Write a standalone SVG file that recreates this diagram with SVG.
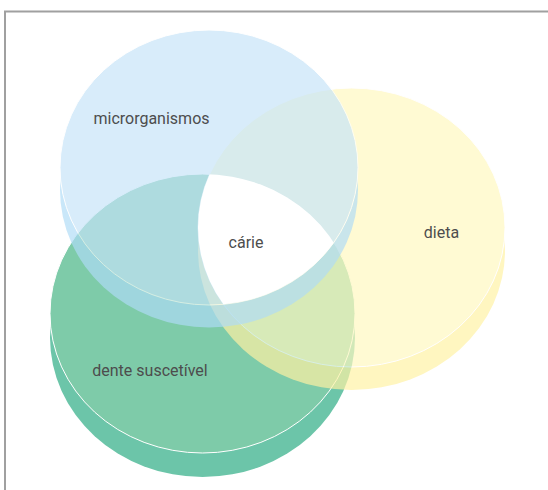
<svg xmlns="http://www.w3.org/2000/svg" width="548" height="490" viewBox="0 0 548 490">
<defs>
<style>
.face{stroke:#ffffff;stroke-width:1}
.lbl{font-family:Roboto,"Liberation Sans",sans-serif;font-size:16px;fill:#4d4d4d;text-anchor:middle}
</style>
<clipPath id="cpBlue"><ellipse cx="209" cy="167.5" rx="149" ry="137.5"/></clipPath>
<clipPath id="cpYellow"><ellipse cx="351.5" cy="227.5" rx="153.5" ry="139.5"/></clipPath>
</defs>
<rect width="548" height="490" fill="#ffffff"/>
<path d="M4,11.5 H548 M5,11 V490" fill="none" stroke="#a0a0a0" stroke-width="2"/>
<g id="dente">
<ellipse cx="202.5" cy="337.5" rx="152.5" ry="139.5" fill="#6cc5a9"/>
<ellipse class="face" cx="202.5" cy="313.5" rx="152.5" ry="139.5" fill="#7ecba9"/>
</g>
<g id="dieta" opacity="0.69">
<ellipse cx="351.5" cy="250.5" rx="153.5" ry="139.5" fill="#fff2a4"/>
<ellipse class="face" cx="351.5" cy="227.5" rx="153.5" ry="139.5" fill="#fff8c0"/>
</g>
<g id="microrganismos" opacity="0.68">
<ellipse cx="209" cy="190" rx="149" ry="137.5" fill="#b0dcf7"/>
<ellipse class="face" cx="209" cy="167.5" rx="149" ry="137.5" fill="#c6e4f9"/>
</g>
<g id="carie">
<g clip-path="url(#cpBlue)">
<g clip-path="url(#cpYellow)">
<ellipse cx="202.5" cy="313.5" rx="152.5" ry="139.5" fill="#ffffff"/>
</g>
</g>
</g>
<g id="labels">
<text class="lbl" x="151.5" y="124">microrganismos</text>
<text class="lbl" x="246" y="248">cárie</text>
<text class="lbl" x="441.5" y="238">dieta</text>
<text class="lbl" x="150" y="376">dente suscetível</text>
</g>
</svg>
